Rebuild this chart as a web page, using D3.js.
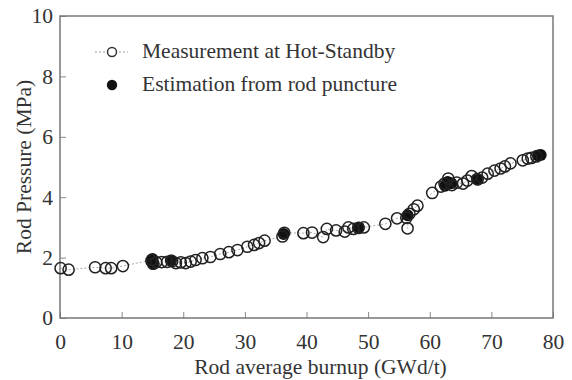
<!DOCTYPE html>
<meta charset="utf-8">
<style>
body { margin: 0; background: #fff; }
text { font-family: "Liberation Serif", "Times New Roman", serif; fill: #333; }
.frame { fill: none; stroke: #777; stroke-width: 1.5px; }
.tick line { stroke: #888; }
</style>
<svg width="572" height="380"></svg>
<script src="https://d3js.org/d3.v7.min.js"></script>
<script>
// measurement at hot-standby: burnup (GWd/t), rod pressure (MPa)
var hsBurnup = [0.1, 1.4, 5.7, 7.4, 8.3, 10.2, 14.9, 15.1, 15.6, 16.5, 17.4, 18.2, 18.8, 19.6, 20.4,
  21.2, 22.0, 23.1, 24.4, 26.0, 27.4, 28.8, 30.4, 31.5, 32.3, 33.2, 36.1, 36.4, 39.5, 40.9,
  42.7, 43.3, 44.8, 46.2, 46.8, 47.6, 48.4, 49.3, 52.8, 54.7, 56.2, 56.4, 56.7, 57.4, 58.0,
  60.4, 61.8, 62.4, 63.0, 63.6, 64.4, 65.4, 66.1, 66.8, 67.7, 68.5, 69.4, 70.5, 71.5, 72.2,
  73.1, 75.1, 75.9, 76.5, 77.3];
var hsPressure = [1.65, 1.6, 1.68, 1.65, 1.65, 1.72, 1.92, 1.8, 1.85, 1.85, 1.86, 1.88, 1.82, 1.84, 1.82,
  1.87, 1.92, 1.98, 2.02, 2.12, 2.18, 2.25, 2.36, 2.42, 2.48, 2.56, 2.7, 2.82, 2.81, 2.83,
  2.68, 2.95, 2.9, 2.86, 3.0, 2.95, 2.98, 3.0, 3.12, 3.3, 3.32, 2.97, 3.45, 3.6, 3.72,
  4.14, 4.35, 4.45, 4.62, 4.4, 4.48, 4.45, 4.55, 4.7, 4.6, 4.65, 4.78, 4.88, 4.95, 5.02,
  5.12, 5.22, 5.28, 5.3, 5.35];

// estimation from rod puncture
var puBurnup = [14.8, 15.0, 15.2, 18.0, 36.3, 48.5, 56.4, 62.5, 62.9, 63.5, 67.8, 77.6, 78.0];
var puPressure = [1.88, 1.95, 1.8, 1.9, 2.78, 3.0, 3.4, 4.38, 4.5, 4.46, 4.58, 5.38, 5.4];

var xTicks = [0, 10, 20, 30, 40, 50, 60, 70, 80];
var yTicks = [0, 2, 4, 6, 8, 10];

var svg = d3.select("svg");
var plotL = 60, plotR = 553, plotT = 16, plotB = 318;
var fs = 21.5;

var x = d3.scaleLinear().domain([0, 80]).range([plotL, plotR]);
var y = d3.scaleLinear().domain([0, 10]).range([plotB, plotT]);

// axes with inward ticks
svg.append("g")
    .attr("transform", "translate(0," + plotB + ")")
    .call(d3.axisBottom(x).tickValues(xTicks).tickSizeInner(-6).tickSizeOuter(0))
    .call(function(g) {
      g.select(".domain").remove();
      g.selectAll("text").attr("font-size", fs).attr("dy", "0.71em").attr("y", 16);
    });

svg.append("g")
    .attr("transform", "translate(" + plotL + ",0)")
    .call(d3.axisLeft(y).tickValues(yTicks).tickSizeInner(-6).tickSizeOuter(0))
    .call(function(g) {
      g.select(".domain").remove();
      g.selectAll("text").attr("font-size", fs).attr("x", -7);
    });

svg.append("rect")
    .attr("class", "frame")
    .attr("x", plotL).attr("y", plotT)
    .attr("width", plotR - plotL).attr("height", plotB - plotT);

// dotted line through measurements
var hs = hsBurnup.map(function(d, i) { return [d, hsPressure[i]]; });
var pu = puBurnup.map(function(d, i) { return [d, puPressure[i]]; });

svg.append("path")
    .datum(hs)
    .attr("fill", "none")
    .attr("stroke", "#aaa")
    .attr("stroke-width", 1)
    .attr("stroke-dasharray", "2,2")
    .attr("d", d3.line().x(function(d) { return x(d[0]); }).y(function(d) { return y(d[1]); }));

svg.append("g").selectAll("circle")
    .data(pu)
    .enter().append("circle")
      .attr("cx", function(d) { return x(d[0]); })
      .attr("cy", function(d) { return y(d[1]); })
      .attr("r", 6)
      .attr("fill", "#111");

svg.append("g").selectAll("circle")
    .data(hs)
    .enter().append("circle")
      .attr("cx", function(d) { return x(d[0]); })
      .attr("cy", function(d) { return y(d[1]); })
      .attr("r", 5.6)
      .attr("fill", "none")
      .attr("stroke", "#222")
      .attr("stroke-width", 1.5);

// legend
svg.append("line")
    .attr("x1", 95).attr("x2", 128).attr("y1", 52).attr("y2", 52)
    .attr("stroke", "#999").attr("stroke-dasharray", "2,2");
svg.append("circle")
    .attr("cx", 112).attr("cy", 52).attr("r", 4.5)
    .attr("fill", "#fff").attr("stroke", "#333").attr("stroke-width", 1.5);
svg.append("circle")
    .attr("cx", 112).attr("cy", 85).attr("r", 5.2)
    .attr("fill", "#111");
svg.append("text").attr("x", 142).attr("y", 58).attr("font-size", fs).text("Measurement at Hot-Standby");
svg.append("text").attr("x", 142).attr("y", 91).attr("font-size", fs).text("Estimation from rod puncture");

// axis titles
svg.append("text")
    .attr("x", (plotL + plotR) / 2 + 14).attr("y", 374)
    .attr("text-anchor", "middle").attr("font-size", fs)
    .text("Rod average burnup (GWd/t)");
svg.append("text")
    .attr("transform", "translate(31," + ((plotT + plotB) / 2) + ") rotate(-90)")
    .attr("text-anchor", "middle").attr("font-size", fs)
    .text("Rod Pressure (MPa)");
</script>
